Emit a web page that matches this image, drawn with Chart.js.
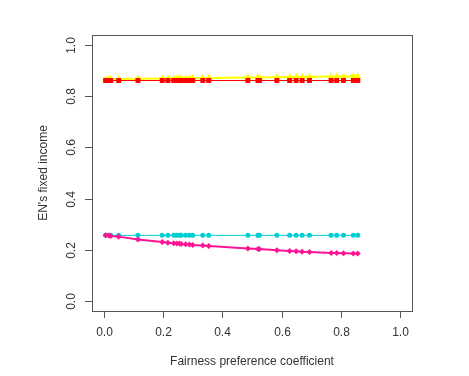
<!DOCTYPE html>
<html>
<head>
<meta charset="utf-8">
<script src="https://cdn.jsdelivr.net/npm/chart.js@4/dist/chart.umd.min.js"></script>
<style>
  html, body { margin: 0; padding: 0; background: #fff; }
  #wrap { width: 469px; height: 376px; }
</style>
</head>
<body>
<div id="wrap"><canvas id="chart" width="469" height="376"></canvas></div>
<script>
// fairness preference coefficient (shared x for all series)
var coef = [0.006, 0.017, 0.023, 0.050, 0.115, 0.197, 0.216, 0.236, 0.246, 0.255,
            0.261, 0.276, 0.289, 0.300, 0.334, 0.354, 0.486, 0.520, 0.525, 0.584,
            0.627, 0.649, 0.669, 0.694, 0.767, 0.786, 0.809, 0.842, 0.857];

var redVals = [0.862, 0.862, 0.862, 0.862, 0.862, 0.862, 0.862, 0.862, 0.862, 0.862,
               0.862, 0.862, 0.862, 0.862, 0.862, 0.862, 0.862, 0.862, 0.862, 0.862,
               0.862, 0.862, 0.862, 0.862, 0.862, 0.862, 0.862, 0.862, 0.862];

var yellowVals = [0.867, 0.867, 0.867, 0.868, 0.869, 0.870, 0.870, 0.870, 0.870, 0.871,
                  0.871, 0.871, 0.871, 0.871, 0.872, 0.872, 0.874, 0.874, 0.874, 0.875,
                  0.876, 0.876, 0.876, 0.877, 0.878, 0.878, 0.878, 0.879, 0.879];

var cyanVals = [0.256, 0.256, 0.256, 0.256, 0.256, 0.256, 0.256, 0.256, 0.256, 0.256,
                0.256, 0.256, 0.256, 0.256, 0.256, 0.256, 0.256, 0.256, 0.256, 0.256,
                0.256, 0.256, 0.256, 0.256, 0.256, 0.256, 0.256, 0.256, 0.256];

var pinkVals = [0.256, 0.255, 0.253, 0.251, 0.240, 0.230, 0.227, 0.225, 0.224, 0.224,
                0.222, 0.221, 0.220, 0.218, 0.216, 0.214, 0.205, 0.203, 0.203, 0.198,
                0.195, 0.194, 0.192, 0.191, 0.187, 0.187, 0.186, 0.185, 0.185];

var xTicks = [0, 0.2, 0.4, 0.6, 0.8, 1.0];
var yTicks = [0, 0.2, 0.4, 0.6, 0.8, 1.0];
var xTitle = "Fairness preference coefficient";
var yTitle = "EN's fixed income";

function pts(vals) {
  return coef.map(function (x, i) { return { x: x, y: vals[i] }; });
}

var FONT = "12px 'Liberation Sans', Arial, sans-serif";

// R-style box, ticks and labels drawn from the chart's own scales
var rAxes = {
  id: 'rAxes',
  afterDraw: function (chart) {
    var ctx = chart.ctx, a = chart.chartArea;
    var xs = chart.scales.x, ys = chart.scales.y;
    ctx.save();
    ctx.strokeStyle = '#555';
    ctx.lineWidth = 1;
    ctx.strokeRect(a.left + 0.5, a.top + 0.5, a.right - a.left, a.bottom - a.top);

    ctx.fillStyle = '#333';
    ctx.font = FONT;
    ctx.textAlign = 'center';
    ctx.textBaseline = 'middle';
    xTicks.forEach(function (v) {
      var px = Math.round(xs.getPixelForValue(v)) + 0.5;
      ctx.beginPath();
      ctx.moveTo(px, a.bottom);
      ctx.lineTo(px, a.bottom + 7);
      ctx.stroke();
      ctx.fillText(v.toFixed(1), px, a.bottom + 22);
    });
    yTicks.forEach(function (v) {
      var py = Math.round(ys.getPixelForValue(v)) + 0.5;
      ctx.beginPath();
      ctx.moveTo(a.left, py);
      ctx.lineTo(a.left - 7, py);
      ctx.stroke();
      ctx.save();
      ctx.translate(a.left - 20, py);
      ctx.rotate(-Math.PI / 2);
      ctx.fillText(v.toFixed(1), 0, 0);
      ctx.restore();
    });

    ctx.fillText(xTitle, (a.left + a.right) / 2, a.bottom + 51);
    ctx.save();
    ctx.translate(a.left - 48, (a.top + a.bottom) / 2);
    ctx.rotate(-Math.PI / 2);
    ctx.fillText(yTitle, 0, 0);
    ctx.restore();
    ctx.restore();
  }
};

new Chart(document.getElementById('chart'), {
  type: 'scatter',
  data: {
    datasets: [{
        data: pts(redVals),
        borderColor: '#ff0000',
        backgroundColor: '#ff0000',
        borderWidth: 1,
        pointStyle: 'rect',
        pointRadius: 3.5,
        pointBorderWidth: 0,
        showLine: true
      }, {
        data: pts(yellowVals),
        borderColor: '#ffff00',
        backgroundColor: '#ffff00',
        borderWidth: 2,
        pointStyle: 'triangle',
        pointRadius: 4,
        pointBorderWidth: 0,
        showLine: true
      }, {
        data: pts(pinkVals),
        borderColor: '#ff1493',
        backgroundColor: '#ff1493',
        borderWidth: 2,
        pointStyle: 'rectRot',
        pointRadius: 3,
        pointBorderWidth: 0,
        showLine: true
      }, {
        data: pts(cyanVals),
        borderColor: '#00ced1',
        backgroundColor: '#00ced1',
        borderWidth: 1,
        pointStyle: 'circle',
        pointRadius: 2.5,
        pointBorderWidth: 0,
        showLine: true
      }
    ]
  },
  options: {
    responsive: false,
    animation: false,
    layout: { padding: { left: 92, right: 57, top: 35, bottom: 65 } },
    plugins: { legend: { display: false }, tooltip: { enabled: false } },
    scales: {
      x: { type: 'linear', min: -0.04, max: 1.04, display: false },
      y: { type: 'linear', min: -0.04, max: 1.04, display: false }
    }
  },
  plugins: [rAxes]
});
</script>
</body>
</html>
